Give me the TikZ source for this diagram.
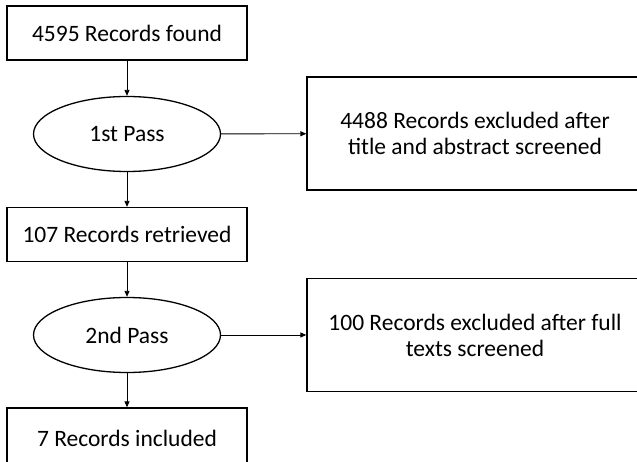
\documentclass[tikz,border=0pt]{standalone}
\usepackage{fontspec}
\setmainfont{Carlito}
\usetikzlibrary{positioning,shapes.geometric,arrows.meta}

\begin{document}
\begin{tikzpicture}[x=1pt,y=-1pt,>={Triangle[length=6pt,width=5pt]}]
            \tikzstyle{rec}=[rectangle, draw, line width=1.3pt, inner sep=0pt,
            minimum width=240pt, minimum height=54pt,
            font=\fontsize{23.5}{26}\selectfont]
            \tikzstyle{pass}=[ellipse, draw, line width=1.3pt, inner sep=0pt,
            minimum width=187pt, minimum height=75pt,
            font=\fontsize{23.5}{26}\selectfont]
            \tikzstyle{excl}=[rec, align=center,
            minimum width=336pt, minimum height=113pt]
            \useasboundingbox (0,0) rectangle (637,462);
            \clip (0,0) rectangle (637,462);
            \node[rec] (found) at (127,33) {4595 Records found};
            \node[pass] (pass1) at (127,134) {1st Pass};
            \node[excl] (excl1) at (475,133.5) {4488 Records excluded after\\title and abstract screened};
            \node[rec] (retr) at (127,234.5) {107 Records retrieved};
            \node[pass] (pass2) at (127,335) {2nd Pass};
            \node[excl] (excl2) at (475,335) {100 Records excluded after full\\texts screened};
            \node[rec, minimum height=60pt] (incl) at (127,438) {7 Records included};
            \path[line width=0.9pt]
            (found) edge [->] (pass1)
            (pass1) edge [->] (excl1)
            (pass1) edge [->] (retr)
            (retr) edge [->] (pass2)
            (pass2) edge [->] (excl2)
            (pass2) edge [->] (incl);
        \end{tikzpicture}
\end{document}
